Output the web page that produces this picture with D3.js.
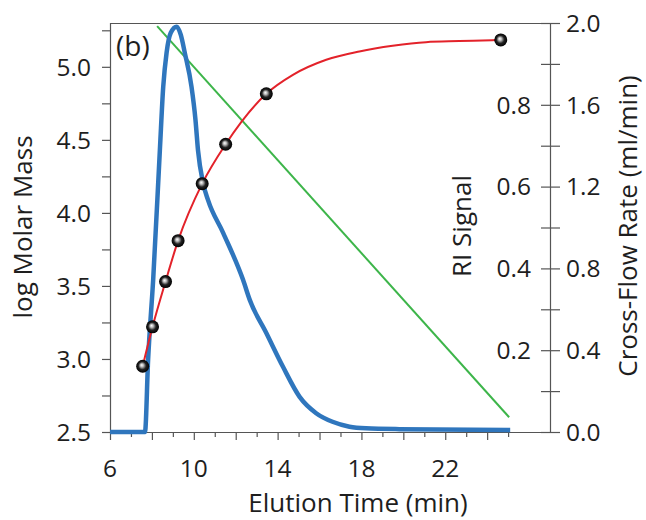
<!DOCTYPE html>
<html><head><meta charset="utf-8">
<script src="https://cdn.jsdelivr.net/npm/d3@7"></script>
<style>
html,body{margin:0;padding:0;background:#fff;}
svg{display:block;}
text{font-family:"Open Sans",sans-serif;fill:#1e1e1e;}
</style></head>
<body><svg id="c" width="646" height="520"></svg>
<script>
// ---- data ----
const blueT  = [6, 7.67, 7.82, 8.06, 8.38, 8.54, 8.70, 8.90, 9.18, 9.38, 9.57, 9.89, 10.08, 10.20, 10.44, 10.68, 11.40, 12.35, 12.67, 13.46, 14.25, 15.05, 15.84, 16.62, 17.43, 18.22, 19.81, 25.1];
const blueRI = [0, 0, 0.178, 0.372, 0.689, 0.844, 0.927, 0.976, 0.991, 0.971, 0.927, 0.844, 0.763, 0.689, 0.609, 0.567, 0.487, 0.372, 0.323, 0.242, 0.160, 0.086, 0.046, 0.025, 0.013, 0.009, 0.007, 0.005];
const redT = [7.56, 8.03, 8.65, 9.25, 10.4, 11.52, 13.46, 14.73, 16.32, 17.90, 19.49, 21.08, 22.67, 24.24, 24.65];
const redM = [2.95, 3.22, 3.53, 3.81, 4.20, 4.47, 4.815, 4.945, 5.048, 5.105, 5.144, 5.169, 5.176, 5.182, 5.184];
const pointT = [7.56, 8.03, 8.65, 9.25, 10.4, 11.52, 13.46, 24.65];
const pointM = [2.95, 3.22, 3.53, 3.81, 4.20, 4.47, 4.815, 5.184];
const flowT = [8.25, 25.05];
const flowV = [1.985, 0.072];
const xTickLabels = [6, 10, 14, 18, 22];
const leftTickLabels = [2.5, 3.0, 3.5, 4.0, 4.5, 5.0];
const riTickLabels = [0.2, 0.4, 0.6, 0.8];
const cfTickLabels = [0.0, 0.4, 0.8, 1.2, 1.6, 2.0];

// ---- layout ----
const L = 110, R = 550, T = 23, B = 432;
const svg = d3.select("#c");
const x = d3.scaleLinear().domain([6, 27]).range([L, R]);
const yM = d3.scaleLinear().domain([2.5, 5.3]).range([B, T]);
const yRI = d3.scaleLinear().domain([0, 1.0]).range([B, T]);
const yCF = d3.scaleLinear().domain([0, 2.0]).range([B, T]);
const axisCol = "#555";
const fs = 24.5;   // tick labels
const ft = 26;     // axis titles

// gradient for spheres
const defs = svg.append("defs");
const g = defs.append("radialGradient").attr("id","sph").attr("cx","0.5").attr("cy","0.5").attr("r","0.5").attr("fx","0.42").attr("fy","0.4");
g.append("stop").attr("offset","0%").attr("stop-color","#ffffff");
g.append("stop").attr("offset","25%").attr("stop-color","#bdbdbd");
g.append("stop").attr("offset","60%").attr("stop-color","#222");
g.append("stop").attr("offset","100%").attr("stop-color","#000");

// frame lines
svg.append("line").attr("x1",L).attr("x2",R+10).attr("y1",T+0.5).attr("y2",T+0.5).attr("stroke",axisCol).attr("stroke-width",1.2);
svg.append("line").attr("x1",L).attr("x2",R+10).attr("y1",B+0.5).attr("y2",B+0.5).attr("stroke",axisCol).attr("stroke-width",1.2);
svg.append("line").attr("x1",L+0.5).attr("x2",L+0.5).attr("y1",T).attr("y2",B).attr("stroke",axisCol).attr("stroke-width",1.2);
svg.append("line").attr("x1",R+0.5).attr("x2",R+0.5).attr("y1",T).attr("y2",B).attr("stroke",axisCol).attr("stroke-width",1.2);

// bottom axis ticks
const xt = d3.range(6, 26, 1);
svg.append("g").selectAll("line").data(xt).join("line")
  .attr("x1",d=>x(d)+0.5).attr("x2",d=>x(d)+0.5)
  .attr("y1",B).attr("y2",d=> B + (d%2===0 ? 8 : 5))
  .attr("stroke",axisCol).attr("stroke-width",1.2);
svg.append("g").selectAll("text").data(xTickLabels).join("text")
  .attr("x",d=>x(d)).attr("y",477).attr("text-anchor","middle").attr("font-size",fs)
  .text(d=>d);

// left axis ticks
const lt = d3.range(2.5, 5.26, 0.25);
svg.append("g").selectAll("line").data(lt).join("line")
  .attr("x1",L-8).attr("x2",L).attr("y1",d=>yM(d)+0.5).attr("y2",d=>yM(d)+0.5)
  .attr("stroke",axisCol).attr("stroke-width",1.2);
svg.append("g").selectAll("text").data(leftTickLabels).join("text")
  .attr("x",91).attr("y",d=>yM(d)).attr("dy","0.36em").attr("text-anchor","end").attr("font-size",fs)
  .text(d=>d.toFixed(1));

// right axis ticks
const rt = d3.range(0, 1.001, 0.1);
svg.append("g").selectAll("line").data(rt).join("line")
  .attr("x1",R-9).attr("x2",R+10).attr("y1",d=>yRI(d)+0.5).attr("y2",d=>yRI(d)+0.5)
  .attr("stroke",axisCol).attr("stroke-width",1.2);
svg.append("g").selectAll("text").data(riTickLabels).join("text")
  .attr("x",531).attr("y",d=>yRI(d)).attr("dy","0.36em").attr("text-anchor","end").attr("font-size",fs)
  .text(d=>d.toFixed(1));
svg.append("g").selectAll("text").data(cfTickLabels).join("text")
  .attr("x",566).attr("y",d=>yCF(d)).attr("dy","0.36em").attr("text-anchor","start").attr("font-size",fs)
  .text(d=>d.toFixed(1));

// axis titles
svg.append("text").attr("x",358).attr("y",512).attr("text-anchor","middle").attr("font-size",ft).text("Elution Time (min)");
svg.append("text").attr("transform","translate(32,227) rotate(-90)").attr("text-anchor","middle").attr("font-size",ft).text("log Molar Mass");
svg.append("text").attr("transform","translate(471,226) rotate(-90)").attr("text-anchor","middle").attr("font-size",ft).text("RI Signal");
svg.append("text").attr("transform","translate(637,226) rotate(-90)").attr("text-anchor","middle").attr("font-size",ft).text("Cross-Flow Rate (ml/min)");
svg.append("text").attr("x",116).attr("y",56).attr("font-size",28).text("(b)");

// green cross-flow line
svg.append("path").datum(flowT.map((t,i)=>[t,flowV[i]]))
  .attr("d", d3.line().x(d=>x(d[0])).y(d=>yCF(d[1])))
  .attr("fill","none").attr("stroke","#3db54a").attr("stroke-width",2);

// blue RI signal
svg.append("path").datum(blueT.map((t,i)=>[t,blueRI[i]]))
  .attr("d", d3.line().x(d=>x(d[0])).y(d=>yRI(d[1])).curve(d3.curveMonotoneX))
  .attr("fill","none").attr("stroke","#2f76bd").attr("stroke-width",4.5).attr("stroke-linejoin","round");

// red molar mass fit
svg.append("path").datum(redT.map((t,i)=>[t,redM[i]]))
  .attr("d", d3.line().x(d=>x(d[0])).y(d=>yM(d[1])).curve(d3.curveMonotoneX))
  .attr("fill","none").attr("stroke","#e3222a").attr("stroke-width",2);

// spheres
svg.append("g").selectAll("circle").data(pointT.map((t,i)=>[t,pointM[i]])).join("circle")
  .attr("cx",d=>x(d[0])).attr("cy",d=>yM(d[1])).attr("r",6.5).attr("fill","url(#sph)");
</script></body></html>
